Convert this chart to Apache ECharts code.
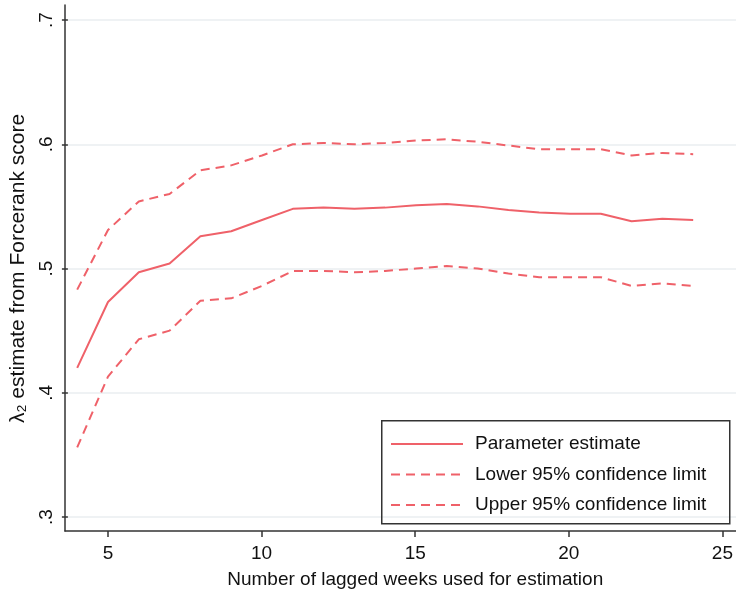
<!DOCTYPE html>
<html>
<head>
<meta charset="utf-8">
<script src="https://cdn.jsdelivr.net/npm/echarts@6/dist/echarts.min.js"></script>
<style>
  html, body { margin: 0; padding: 0; background: #fff; }
  #chart { width: 736px; height: 595px; }
</style>
</head>
<body>
<div id="chart"></div>
<script>
const weeks = [4, 5, 6, 7, 8, 9, 10, 11, 12, 13, 14, 15, 16, 17, 18, 19, 20, 21, 22, 23, 24];
const estimate = [0.420, 0.473, 0.497, 0.504, 0.526, 0.530, 0.539, 0.548, 0.549, 0.548, 0.549,
  0.551, 0.552, 0.550, 0.547, 0.545, 0.544, 0.544, 0.538, 0.540, 0.539];
const lower = [0.356, 0.413, 0.443, 0.450, 0.474, 0.476, 0.486, 0.498, 0.498, 0.497, 0.498,
  0.500, 0.502, 0.500, 0.496, 0.493, 0.493, 0.493, 0.486, 0.488, 0.486];
const upper = [0.483, 0.531, 0.554, 0.560, 0.579, 0.583, 0.591, 0.600, 0.601, 0.600, 0.601,
  0.603, 0.604, 0.602, 0.599, 0.596, 0.596, 0.596, 0.591, 0.593, 0.592];
const seriesNames = ["Parameter estimate", "Lower 95% confidence limit", "Upper 95% confidence limit"];
const yTicks = [0.3, 0.4, 0.5, 0.6, 0.7];
const xTicks = [5, 10, 15, 20, 25];

const font = '"Liberation Sans", Arial, Helvetica, sans-serif';
const red = "#ef6169";
const axisCol = "#333";

const pairs = arr => weeks.map((w, i) => [w, arr[i]]);

const chart = echarts.init(document.getElementById("chart"));

const option = {
  animation: false,
  textStyle: { fontFamily: font },
  grid: [
    // data area, drawn with the full axis lines
    { left: 65, right: 0, top: 5, bottom: 64 },
    // y ticks, labels and grid lines
    { left: 65, right: 0, top: 20, bottom: 78 },
    // x ticks and labels
    { left: 108, right: 12, top: 5, bottom: 64 }
  ],
  xAxis: [
    {
      gridIndex: 0, type: "value", min: 3.604, max: 25.39,
      axisLine: { lineStyle: { color: axisCol, width: 1.5 } },
      axisTick: { show: false }, axisLabel: { show: false }, splitLine: { show: false }
    },
    { gridIndex: 1, type: "value", min: 0, max: 1, show: false },
    {
      gridIndex: 2, type: "value", min: xTicks[0], max: xTicks[xTicks.length - 1], interval: 5,
      axisLine: { show: false },
      axisTick: { show: true, length: 6, lineStyle: { color: axisCol, width: 1.5 } },
      axisLabel: { fontSize: 19, color: "#111", margin: 13, fontFamily: font },
      splitLine: { show: false },
      name: "Number of lagged weeks used for estimation",
      nameLocation: "middle", nameGap: 39,
      nameTextStyle: { fontSize: 19, color: "#111", fontFamily: font }
    }
  ],
  yAxis: [
    {
      gridIndex: 0, type: "value", min: 0.2887, max: 0.7121,
      axisLine: { show: true, lineStyle: { color: axisCol, width: 1.5 } },
      axisTick: { show: false }, axisLabel: { show: false }, splitLine: { show: false }
    },
    {
      gridIndex: 1, type: "value", min: yTicks[0], max: yTicks[yTicks.length - 1], interval: 0.1,
      axisLine: { show: false },
      axisTick: { show: true, length: 6, lineStyle: { color: axisCol, width: 1.5 } },
      axisLabel: {
        rotate: 90, fontSize: 19, color: "#111", margin: 12, fontFamily: font,
        formatter: v => v.toFixed(1).replace(/^0/, "")
      },
      splitLine: { show: true, lineStyle: { color: "#eaeef0", width: 1.5 } },
      name: "λ₂ estimate from Forcerank score",
      nameLocation: "middle", nameRotate: 90, nameGap: 35,
      nameTextStyle: { fontSize: 21, color: "#111", fontFamily: font }
    },
    { gridIndex: 2, type: "value", min: 0, max: 1, show: false }
  ],
  legend: {
    left: 390, top: 434, orient: "vertical", padding: 0,
    itemWidth: 72, itemHeight: 20, itemGap: 10.5,
    selectedMode: false,
    data: seriesNames,
    itemStyle: { opacity: 0 },
    textStyle: { fontSize: 19, color: "#111", fontFamily: font, lineHeight: 20, padding: [0, 0, 0, 7] }
  },
  graphic: [
    {
      type: "rect", left: 381, top: 420, z: 10,
      shape: { width: 348, height: 103 },
      style: { fill: "rgba(255,255,255,0)", stroke: axisCol, lineWidth: 1.5 }
    }
  ],
  series: [
    {
      name: seriesNames[0], type: "line", xAxisIndex: 0, yAxisIndex: 0,
      data: pairs(estimate), symbol: "none",
      lineStyle: { color: red, width: 2 }, itemStyle: { color: red }
    },
    {
      name: seriesNames[1], type: "line", xAxisIndex: 0, yAxisIndex: 0,
      data: pairs(lower), symbol: "none",
      lineStyle: { color: red, width: 2, type: [9, 6] }, itemStyle: { color: red }
    },
    {
      name: seriesNames[2], type: "line", xAxisIndex: 0, yAxisIndex: 0,
      data: pairs(upper), symbol: "none",
      lineStyle: { color: red, width: 2, type: [9, 6] }, itemStyle: { color: red }
    }
  ]
};

chart.setOption(option);
</script>
</body>
</html>
